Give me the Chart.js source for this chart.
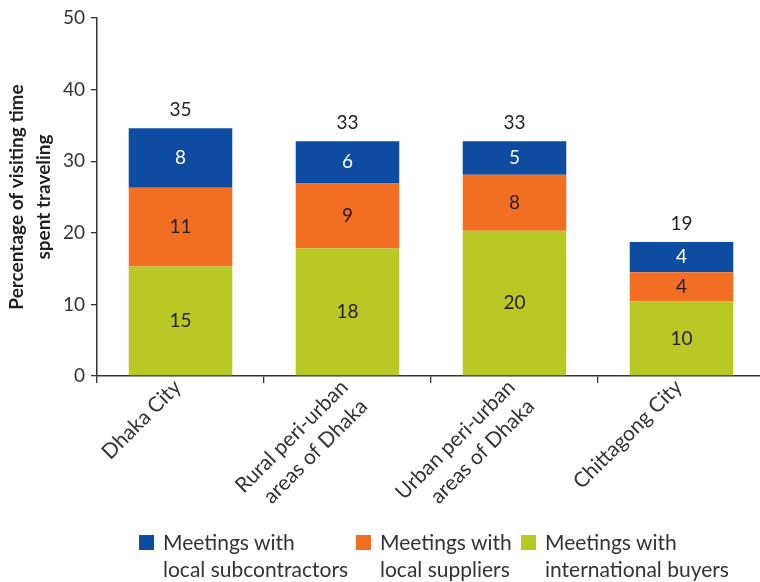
<!DOCTYPE html>
<html>
<head>
<meta charset="utf-8">
<script src="https://cdn.jsdelivr.net/npm/chart.js@4/dist/chart.umd.min.js"></script>
<style>
  html, body { margin: 0; padding: 0; background: #fff; overflow: hidden; }
  #wrap { position: relative; width: 765px; height: 582px; }
  #legend { position: absolute; left: 0; top: 0; width: 760px; height: 582px; pointer-events: none; }
  .li { position: absolute; font-family: Lato, sans-serif; font-size: 21px; color: #333; line-height: 27px; }
  .li .box { position: absolute; width: 15px; height: 15px; left: 0; top: 7px; }
  .li .txt { position: absolute; left: 24px; top: 0; white-space: nowrap; }
</style>
</head>
<body>
<div id="wrap">
  <canvas id="c" width="765" height="582"></canvas>
  <div id="legend"></div>
</div>
<script>
const categories = [
  ['Dhaka City'],
  ['Rural peri-urban', 'areas of Dhaka'],
  ['Urban peri-urban', 'areas of Dhaka'],
  ['Chittagong City']
];
const internationalBuyers = [15.3, 17.8, 20.3, 10.4];
const localSuppliers = [11.0, 9.1, 7.8, 4.1];
const localSubcontractors = [8.3, 5.9, 4.7, 4.2];
const yTicks = [0, 10, 20, 30, 40, 50];
const seriesNames = {
  subcontractors: ['Meetings with', 'local subcontractors'],
  suppliers: ['Meetings with', 'local suppliers'],
  buyers: ['Meetings with', 'international buyers']
};
const colors = { blue: '#0E4CA1', orange: '#F26E22', green: '#B8C825' };

const FONT = 'Lato, sans-serif';

const valueLabels = {
  id: 'valueLabels',
  afterDatasetsDraw(chart) {
    const ctx = chart.ctx;
    ctx.save();
    ctx.font = '19px ' + FONT;
    ctx.textAlign = 'center';
    ctx.textBaseline = 'middle';
    chart.data.datasets.forEach((ds, i) => {
      const meta = chart.getDatasetMeta(i);
      meta.data.forEach((bar, j) => {
        const v = ds.data[j];
        ctx.fillStyle = ds.labelColor;
        ctx.fillText(String(Math.round(v)), bar.x, (bar.y + bar.base) / 2);
      });
    });
    const last = chart.getDatasetMeta(chart.data.datasets.length - 1);
    last.data.forEach((bar, j) => {
      let total = 0;
      chart.data.datasets.forEach(ds => total += ds.data[j]);
      ctx.fillStyle = '#231f20';
      ctx.fillText(String(Math.round(total)), bar.x, bar.y - 18);
    });
    ctx.restore();
  }
};

const chart = new Chart(document.getElementById('c'), {
  type: 'bar',
  data: {
    labels: categories,
    datasets: [
      { label: seriesNames.buyers, data: internationalBuyers, backgroundColor: colors.green, labelColor: '#231f20' },
      { label: seriesNames.suppliers, data: localSuppliers, backgroundColor: colors.orange, labelColor: '#231f20' },
      { label: seriesNames.subcontractors, data: localSubcontractors, backgroundColor: colors.blue, labelColor: '#fff' }
    ]
  },
  options: {
    responsive: false,
    animation: false,
    events: [],
    layout: { padding: { top: 18, left: 0, right: 0, bottom: 0 } },
    datasets: { bar: { categoryPercentage: 1, barPercentage: 0.62 } },
    plugins: { legend: { display: false }, tooltip: { enabled: false } },
    scales: {
      x: {
        stacked: true,
        grid: { display: true, drawOnChartArea: false, drawTicks: true, tickLength: 7, color: '#333', lineWidth: 1.3, offset: true },
        border: { display: true, color: '#333', width: 1.5 },
        ticks: {
          minRotation: 45, maxRotation: 45, padding: -9, labelOffset: -3,
          color: '#333', font: { family: FONT, size: 21, lineHeight: 1.3 }
        },
        afterFit(scale) { scale.height = 206; }
      },
      y: {
        stacked: true,
        min: 0, max: 50,
        afterBuildTicks(scale) { scale.ticks = yTicks.map(v => ({ value: v })); },
        grid: { display: true, drawOnChartArea: false, drawTicks: true, tickLength: 6, color: '#333', lineWidth: 1.3 },
        border: { display: true, color: '#333', width: 1.5 },
        ticks: { padding: 6, color: '#333', font: { family: FONT, size: 19 } },
        title: {
          display: true,
          text: ['Percentage of visiting time', 'spent traveling'],
          color: '#231f20',
          font: { family: FONT, size: 19, weight: 'bold', lineHeight: 1.45 },
          padding: { top: 3, bottom: 0 }
        },
        afterFit(scale) { scale.width = 97; }
      }
    }
  },
  plugins: [valueLabels]
});

// HTML legend built from the chart's datasets
const legendOrder = [2, 1, 0];
const legendX = [139, 356, 521];
const legendEl = document.getElementById('legend');
legendOrder.forEach((di, k) => {
  const ds = chart.data.datasets[di];
  const item = document.createElement('div');
  item.className = 'li';
  item.style.left = legendX[k] + 'px';
  item.style.top = '528px';
  const box = document.createElement('span');
  box.className = 'box';
  box.style.background = ds.backgroundColor;
  const txt = document.createElement('span');
  txt.className = 'txt';
  txt.innerHTML = ds.label.join('<br>');
  item.appendChild(box);
  item.appendChild(txt);
  legendEl.appendChild(item);
});
</script>
</body>
</html>
